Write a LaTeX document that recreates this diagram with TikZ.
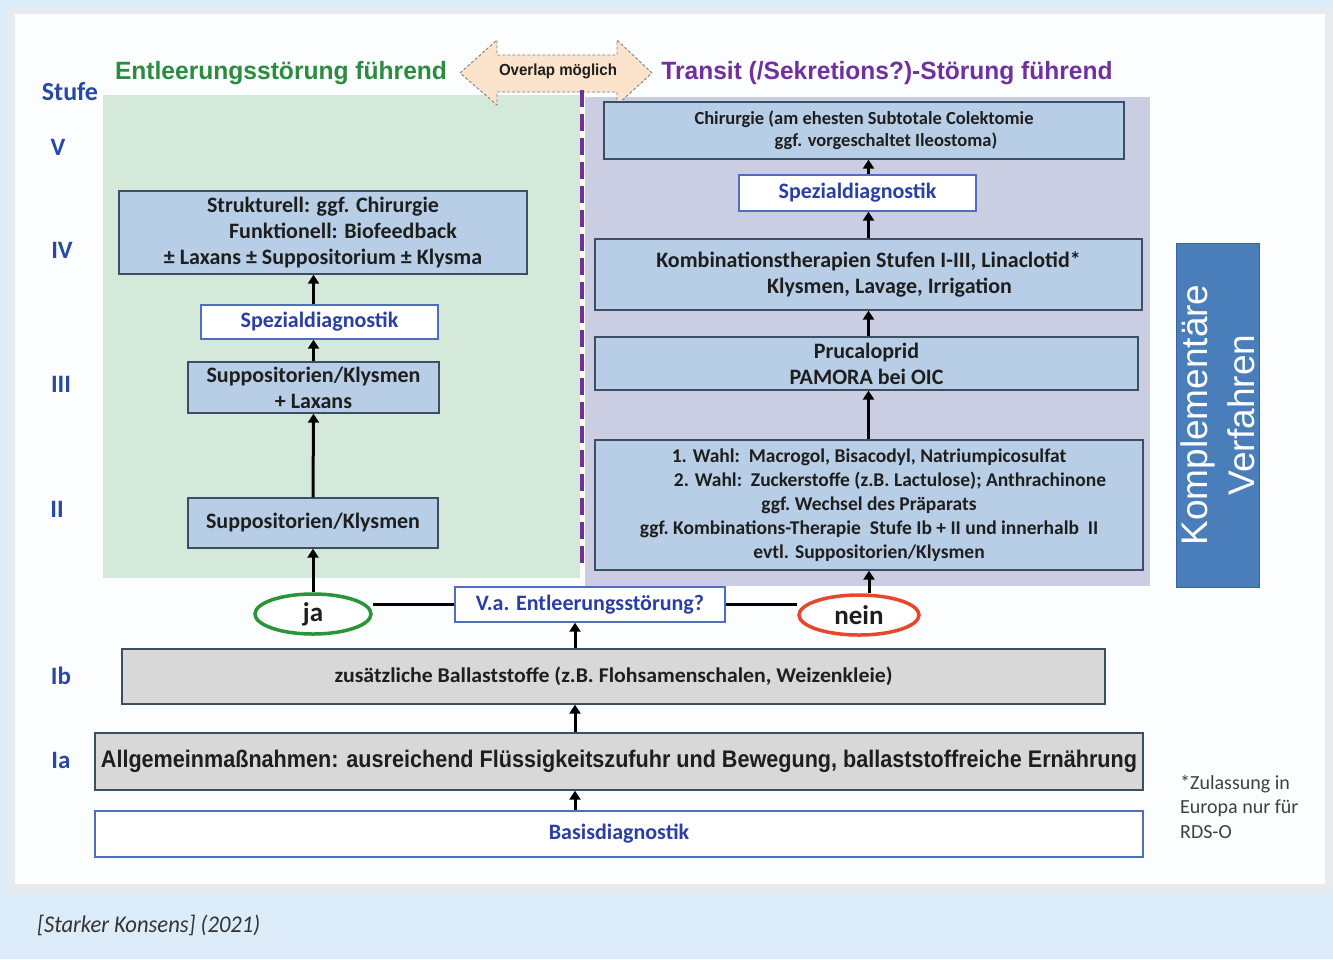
\documentclass[tikz,border=0pt]{standalone}
\usepackage{fontspec}
\setmainfont{Carlito}
\newfontfamily\arialf{Liberation Sans}
\usetikzlibrary{shapes.geometric,arrows.meta,calc}
\pgfdeclarelayer{back}\pgfdeclarelayer{mid}
\pgfsetlayers{back,mid,main}
\definecolor{bgblue}{RGB}{220,236,248}
\definecolor{panelgray}{RGB}{232,235,237}
\definecolor{panelwhite}{RGB}{252,253,254}
\definecolor{greenreg}{RGB}{212,233,218}
\definecolor{lavreg}{RGB}{203,205,226}
\definecolor{boxblue}{RGB}{183,206,230}
\definecolor{boxline}{RGB}{60,78,98}
\definecolor{greybox}{RGB}{216,216,216}
\definecolor{bluetext}{RGB}{42,62,165}
\definecolor{stufeblue}{RGB}{40,72,165}
\definecolor{greentext}{RGB}{42,140,62}
\definecolor{purpletext}{RGB}{112,48,160}
\definecolor{spezline}{RGB}{80,110,190}
\definecolor{kompblue}{RGB}{74,126,187}
\definecolor{kompline}{RGB}{55,100,160}
\definecolor{textdark}{RGB}{30,30,30}
\definecolor{peach}{RGB}{251,227,204}
\definecolor{jagreen}{RGB}{40,150,55}
\definecolor{neinred}{RGB}{232,70,45}
\newcommand\fs[2]{\fontsize{#1}{#2}\selectfont}
\tikzset{
  box/.style={draw=boxline, fill=boxblue, line width=1.3pt, inner sep=0pt, align=center,
    font=\bfseries\fs{22}{26}, text=textdark},
  graybox/.style={box, fill=greybox},
  spezbox/.style={draw=spezline, fill=white, line width=1.3pt, inner sep=0pt, align=center,
    font=\bfseries\fs{22}{24}, text=bluetext},
  arr/.style={line width=3pt, -{Triangle[length=9pt,width=11pt]}},
  lvl/.style={font=\bfseries\fs{25}{25}, text=stufeblue, inner sep=0pt},
  oval/.style={ellipse, fill=white, line width=3.5pt, inner sep=0pt,
    font=\bfseries\fs{27}{27}, text=textdark}
}
\begin{document}
\begin{tikzpicture}[x=1pt,y=-1pt]
\useasboundingbox (0,0) rectangle (1333,959);
\begin{pgfonlayer}{back}
  \fill[bgblue] (0,0) rectangle (1333,959);
  \fill[panelgray] (7,8) rectangle (1333,893);
  \fill[panelwhite] (15,14) rectangle (1325,884);
  \fill[greenreg] (103,95) rectangle (580,578);
  \fill[lavreg] (585,97) rectangle (1150,586);
\end{pgfonlayer}

% headers
\node[lvl, font=\bfseries\fs{26}{26}] (stufe) at (70,92) {Stufe};
\node[inner sep=0pt, text=greentext, font=\arialf\bfseries\fs{25}{25}] (hleft) at (281,73)
  {\resizebox{332pt}{\height}{Entleerungsstörung führend}};
\node[inner sep=0pt, text=purpletext, font=\arialf\bfseries\fs{25}{25}] (hright) at (887,73)
  {\resizebox{451pt}{\height}{Transit (/Sekretions?)-Störung führend}};
\draw[densely dashed, gray, line width=0.9pt, fill=peach]
  (460,73) -- (497,40) -- (497,55) -- (617,55) -- (617,40) -- (652,73)
  -- (617,105) -- (617,92) -- (497,92) -- (497,105) -- cycle;
\node[inner sep=0pt, text=textdark, font=\arialf\bfseries\fs{16}{16}] (overlap) at (558,71)
  {\resizebox{118pt}{\height}{Overlap möglich}};
\draw[purpletext, line width=4pt, dash pattern=on 17pt off 7pt] (582,90) -- (582,568);

% level labels
\node[lvl] (l5) at (58,147) {V};
\node[lvl] (l4) at (62,250) {IV};
\node[lvl] (l3) at (61,384) {III};
\node[lvl] (l2) at (57,509) {II};
\node[lvl] (l1b) at (61,676) {Ib};
\node[lvl] (l1a) at (61,760) {Ia};

% left column
\node[box, minimum width=408, minimum height=83] (struk) at (323,232.5)
  {Strukturell: ggf. Chirurgie\\\hspace*{40pt}Funktionell: Biofeedback\\± Laxans ± Suppositorium ± Klysma};
\node[spezbox, minimum width=237, minimum height=34] (spezL) at (319.5,322) {Spezialdiagnostik};
\node[box, minimum width=251, minimum height=51] (supp3) at (313.5,387.5)
  {Suppositorien/Klysmen\\+ Laxans};
\node[box, minimum width=250, minimum height=50] (supp2) at (313,523) {Suppositorien/Klysmen};

% right column
\node[box, minimum width=520, minimum height=57, font=\bfseries\fs{18.5}{22}] (chir) at (864,130.5)
  {Chirurgie (am ehesten Subtotale Colektomie\\\hspace*{44pt}ggf. vorgeschaltet Ileostoma)};
\node[spezbox, minimum width=237, minimum height=36] (spezR) at (857.5,193) {Spezialdiagnostik};
\node[box, minimum width=547, minimum height=71] (kombi) at (868.5,274.5)
  {Kombinationstherapien Stufen I-III, Linaclotid*\\\hspace*{42pt}Klysmen, Lavage, Irrigation};
\node[box, minimum width=543, minimum height=53] (pruc) at (866.5,363.5)
  {Prucaloprid\\PAMORA bei OIC};
\node[box, minimum width=548, minimum height=130, font=\bfseries\fs{19.5}{24}] (wahl) at (869,505)
  {1. Wahl:\ \ Macrogol, Bisacodyl,\ Natriumpicosulfat\\
   \hspace*{42pt}2. Wahl:\ \ Zuckerstoffe (z.B. Lactulose);\ Anthrachinone\\
   ggf.\ Wechsel\ des\ Präparats\\
   ggf.\ Kombinations-Therapie\ \ Stufe Ib + II und innerhalb\ \ II\\
   evtl. Suppositorien/Klysmen};

% Komplementaere Verfahren
\node[draw=kompline, fill=kompblue, line width=1pt, minimum width=83, minimum height=344,
  inner sep=0pt] (komp) at (1217.5,415) {};
\node[rotate=90, align=center, text=white, inner sep=0pt, font=\arialf\fs{37}{47}] (komptext)
  at (komp.center) {Komplementäre\\Verfahren};

% decision row
\node[oval, draw=jagreen, minimum width=116, minimum height=40] (ja) at (313,614) {ja};
\node[oval, draw=neinred, minimum width=120, minimum height=40] (nein) at (859,615) {nein};
\node[spezbox, minimum width=270, minimum height=35] (va) at (590,604.5) {V.a. Entleerungsstörung?};

% bottom
\node[graybox, minimum width=983, minimum height=55, font=\bfseries\fs{21}{21}] (ib) at (613.5,676.5)
  {\resizebox{558pt}{\height}{zusätzliche Ballaststoffe (z.B. Flohsamenschalen, Weizenkleie)}};
\node[graybox, minimum width=1048, minimum height=57, font=\arialf\bfseries\fs{24}{24}] (ia) at (619,761.5)
  {\resizebox{1036pt}{\height}{Allgemeinmaßnahmen: ausreichend Flüssigkeitszufuhr und Bewegung, ballaststoffreiche Ernährung}};
\node[spezbox, minimum width=1048, minimum height=46] (basis) at (619,834) {Basisdiagnostik};

\node[anchor=north west, align=left, inner sep=0pt, text=black!75, font=\fs{20}{24.5}] (note)
  at (1180,775) {*Zulassung in\\Europa nur für\\RDS-O};

\node[anchor=west, inner sep=0pt, text=black!80, font=\itshape\fs{24}{24}] (caption) at (37,925)
  {\resizebox{223pt}{\height}{[Starker Konsens] (2021)}};

% connectors
\coordinate (mx) at (575,0);
\begin{pgfonlayer}{mid}
  \draw[line width=3pt] (va.west) -- (va.west -| ja.east);
  \draw[line width=3pt] (va.east) -- (va.east -| nein.west);
\end{pgfonlayer}
\draw[arr] (ja.north) -- (supp2.south);
\draw[arr] (supp2.north) -- (supp3.south);
\draw[arr] (supp3.north) -- (supp3.north |- spezL.south);
\draw[arr] (supp3.north |- spezL.north) -- (supp3.north |- struk.south);
\draw[arr] (wahl.south |- nein.north) -- (wahl.south);
\draw[arr] (kombi.south |- wahl.north) -- (kombi.south |- pruc.south);
\draw[arr] (kombi.south |- pruc.north) -- (kombi.south);
\draw[arr] (kombi.north) -- (kombi.north |- spezR.south);
\draw[arr] (kombi.north |- spezR.north) -- (kombi.north |- chir.south);
\draw[arr] (ib.north -| mx) -- (va.south -| mx);
\draw[arr] (ia.north -| mx) -- (ib.south -| mx);
\draw[arr] (basis.north -| mx) -- (ia.south -| mx);
\end{tikzpicture}
\end{document}
